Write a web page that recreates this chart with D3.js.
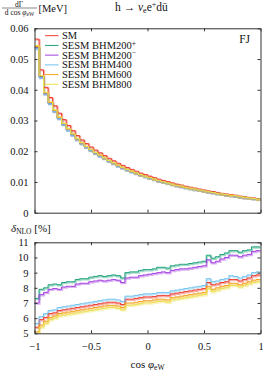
<!DOCTYPE html>
<html>
<head>
<meta charset="utf-8">
<script src="https://cdn.jsdelivr.net/npm/d3@7"></script>
<style>
  body { margin: 0; background: #fff; }
  svg text { font-family: "Liberation Serif", "DejaVu Serif", serif; fill: #111; }
</style>
</head>
<body>
<div id="chart"></div>
<script>
// series names + colours
const seriesNames = ["SM", "BHM200+", "BHM200-", "BHM400", "BHM600", "BHM800"];
const seriesColors = ["#ee3a2e", "#1fa27c", "#a33fe0", "#72c2ee", "#f2a31c", "#ece050"];

const nBins = 50;

// dGamma/dcos (MeV), top panel
const topSM     = [0.0565,0.0465,0.0408,0.0375,0.0348,0.0324,0.0303,0.0284,0.0267,0.0251,0.0237,0.0225,0.0214,0.0204,0.0195,0.0186,0.0177,0.0169,0.0161,0.0154,0.0147,0.0141,0.0135,0.0129,0.0124,0.0119,0.0114,0.0109,0.0105,0.0101,0.0097,0.0093,0.0090,0.0086,0.0083,0.0080,0.0077,0.0074,0.0071,0.0069,0.0066,0.0063,0.0061,0.0059,0.0057,0.0054,0.0052,0.0050,0.0048,0.0046];
const topBHM200p = [0.0538,0.0443,0.0388,0.0357,0.0331,0.0308,0.0288,0.0270,0.0254,0.0239,0.0226,0.0214,0.0204,0.0194,0.0186,0.0177,0.0169,0.0161,0.0153,0.0147,0.0140,0.0134,0.0129,0.0123,0.0118,0.0113,0.0109,0.0104,0.0100,0.0096,0.0092,0.0089,0.0086,0.0082,0.0079,0.0076,0.0073,0.0070,0.0068,0.0066,0.0063,0.0060,0.0058,0.0056,0.0054,0.0051,0.0050,0.0048,0.0046,0.0044];
const topBHM200m = [0.0536,0.0441,0.0387,0.0356,0.0330,0.0307,0.0288,0.0270,0.0253,0.0238,0.0225,0.0214,0.0203,0.0194,0.0185,0.0177,0.0168,0.0160,0.0153,0.0146,0.0140,0.0134,0.0128,0.0122,0.0118,0.0113,0.0108,0.0103,0.0100,0.0096,0.0092,0.0088,0.0085,0.0082,0.0079,0.0076,0.0073,0.0070,0.0067,0.0065,0.0063,0.0060,0.0058,0.0056,0.0054,0.0051,0.0049,0.0047,0.0046,0.0044];
const topBHM400 = [0.0534,0.0439,0.0386,0.0354,0.0329,0.0306,0.0286,0.0268,0.0252,0.0237,0.0224,0.0213,0.0202,0.0193,0.0184,0.0176,0.0167,0.0160,0.0152,0.0146,0.0139,0.0133,0.0128,0.0122,0.0117,0.0112,0.0108,0.0103,0.0099,0.0095,0.0092,0.0088,0.0085,0.0081,0.0078,0.0076,0.0073,0.0070,0.0067,0.0065,0.0062,0.0060,0.0058,0.0056,0.0054,0.0051,0.0049,0.0047,0.0045,0.0043];
const topBHM600 = [0.0541,0.0445,0.0390,0.0359,0.0333,0.0310,0.0290,0.0272,0.0256,0.0240,0.0227,0.0215,0.0205,0.0195,0.0187,0.0178,0.0169,0.0162,0.0154,0.0147,0.0141,0.0135,0.0129,0.0123,0.0119,0.0114,0.0109,0.0104,0.0100,0.0097,0.0093,0.0089,0.0086,0.0082,0.0079,0.0077,0.0074,0.0071,0.0068,0.0066,0.0063,0.0060,0.0058,0.0056,0.0055,0.0052,0.0050,0.0048,0.0046,0.0044];
const topBHM800 = [0.0544,0.0447,0.0392,0.0361,0.0335,0.0312,0.0291,0.0273,0.0257,0.0241,0.0228,0.0216,0.0206,0.0196,0.0188,0.0179,0.0170,0.0163,0.0155,0.0148,0.0141,0.0136,0.0130,0.0124,0.0119,0.0114,0.0110,0.0105,0.0101,0.0097,0.0093,0.0089,0.0087,0.0083,0.0080,0.0077,0.0074,0.0071,0.0068,0.0066,0.0063,0.0061,0.0059,0.0057,0.0055,0.0052,0.0050,0.0048,0.0046,0.0044];

// delta_NLO in %, bottom panel
const dSM      = [5.4,5.9,6.05,6.3,6.35,6.5,6.55,6.6,6.65,6.7,6.75,6.8,6.85,6.9,6.95,7.0,7.05,7.05,7.0,6.9,7.25,7.25,7.3,7.35,7.4,7.4,7.42,7.48,7.5,7.48,7.6,7.65,7.7,7.75,7.8,7.85,7.9,7.95,8.35,8.2,8.25,8.35,8.4,8.55,8.55,8.45,8.55,8.65,8.8,8.85];
const dBHM200p = [7.3,7.9,8.0,8.2,8.25,8.2,8.35,8.4,8.4,8.55,8.6,8.6,8.7,8.75,8.8,8.75,8.8,8.85,8.8,8.65,9.0,9.05,9.05,9.15,9.2,9.2,9.25,9.35,9.35,9.3,9.45,9.5,9.55,9.55,9.6,9.65,9.7,9.75,10.15,9.95,10.05,10.2,10.3,10.45,10.45,10.35,10.45,10.5,10.7,10.7];
const dBHM200m = [7.0,7.55,7.7,7.9,7.95,7.9,8.05,8.1,8.1,8.25,8.3,8.3,8.4,8.45,8.5,8.45,8.5,8.55,8.5,8.35,8.65,8.7,8.7,8.8,8.85,8.9,8.95,9.0,9.05,9.0,9.15,9.2,9.25,9.25,9.3,9.35,9.4,9.45,9.85,9.65,9.75,9.9,10.0,10.15,10.15,10.05,10.15,10.2,10.4,10.45];
const dBHM400  = [5.65,6.1,6.3,6.5,6.55,6.7,6.75,6.8,6.85,6.9,6.95,7.0,7.05,7.1,7.15,7.2,7.25,7.25,7.2,7.1,7.45,7.45,7.5,7.55,7.6,7.6,7.62,7.68,7.7,7.68,7.8,7.85,7.9,7.95,8.0,8.05,8.1,8.15,8.6,8.4,8.45,8.55,8.6,8.8,8.75,8.65,8.75,8.85,9.0,9.05];
const dBHM600  = [5.1,5.55,5.8,6.05,6.15,6.3,6.35,6.4,6.45,6.5,6.55,6.6,6.65,6.7,6.75,6.8,6.85,6.85,6.8,6.7,7.0,7.0,7.05,7.1,7.15,7.15,7.2,7.25,7.25,7.2,7.35,7.4,7.45,7.5,7.55,7.6,7.65,7.7,8.1,7.9,8.0,8.1,8.15,8.3,8.3,8.2,8.3,8.4,8.5,8.55];
const dBHM800  = [4.95,5.4,5.65,5.9,6.0,6.15,6.2,6.25,6.3,6.35,6.4,6.45,6.5,6.55,6.6,6.65,6.7,6.7,6.65,6.55,6.85,6.85,6.9,6.95,7.0,7.0,7.05,7.1,7.1,7.05,7.2,7.25,7.3,7.35,7.4,7.45,7.5,7.55,7.95,7.75,7.85,7.95,8.0,8.15,8.15,8.05,8.15,8.25,8.35,8.4];

const topValues = [topSM, topBHM200p, topBHM200m, topBHM400, topBHM600, topBHM800];
const botValues = [dSM, dBHM200p, dBHM200m, dBHM400, dBHM600, dBHM800];

const xTicks = [-1, -0.5, 0, 0.5, 1];
const topYTicks = [0, 0.01, 0.02, 0.03, 0.04, 0.05, 0.06];
const botYTicks = [5, 6, 7, 8, 9, 10, 11];

const width = 263, height = 372;
const svg = d3.select("#chart").append("svg")
  .attr("width", width).attr("height", height);

let x = d3.scaleLinear().domain([-1, 1]).range([34.5, 260.5]);
let yTop = d3.scaleLinear().domain([0, 0.06]).range([212.7, 28.3]);
let yBot = d3.scaleLinear().domain([5, 11]).range([333.3, 242.3]);

const edges = d3.range(nBins + 1).map(i => -1 + 2 * i / nBins);

function stepPoints(vals) {
  let pts = vals.map((v, i) => [edges[i], v]);
  pts.push([edges[nBins], vals[nBins - 1]]);
  return pts;
}

const fmt = d3.format("~g");

function drawPanel(y, yTicks, values, showXLabels, clipId) {
  const y0 = y.range()[0], y1 = y.range()[1];
  const x0 = x.range()[0], x1 = x.range()[1];

  svg.append("clipPath").attr("id", clipId)
    .append("rect").attr("x", x0).attr("y", y1).attr("width", x1 - x0).attr("height", y0 - y1);

  // curves
  let line = d3.line().curve(d3.curveStepAfter)
    .x(d => x(d[0])).y(d => y(d[1]));
  let g = svg.append("g").attr("clip-path", `url(#${clipId})`);
  values.forEach((vals, i) => {
    g.append("path")
      .attr("d", line(stepPoints(vals)))
      .attr("transform", "translate(0.8,1)")
      .attr("fill", "none")
      .attr("stroke", seriesColors[i])
      .attr("stroke-opacity", 0.4)
      .attr("stroke-width", 1.6);
  });
  values.forEach((vals, i) => {
    g.append("path")
      .attr("d", line(stepPoints(vals)))
      .attr("fill", "none")
      .attr("stroke", seriesColors[i])
      .attr("stroke-width", 1);
  });

  // axes, ticks pointing inward
  svg.append("g").attr("transform", `translate(${x0},0)`)
    .call(d3.axisLeft(y).tickValues(yTicks).tickFormat(fmt).tickSizeInner(-3).tickSizeOuter(0).tickPadding(6));
  svg.append("g").attr("transform", `translate(${x1},0)`)
    .call(d3.axisRight(y).tickValues(yTicks).tickFormat("").tickSizeInner(-3).tickSizeOuter(0));
  svg.append("g").attr("transform", `translate(0,${y1})`)
    .call(d3.axisTop(x).tickValues(xTicks).tickFormat("").tickSizeInner(-3).tickSizeOuter(0));
  svg.append("g").attr("transform", `translate(0,${y0})`)
    .call(d3.axisBottom(x).tickValues(xTicks).tickFormat(showXLabels ? fmt : "").tickSizeInner(-3).tickSizeOuter(0).tickPadding(9));

  svg.selectAll(".domain").attr("stroke", "#333").attr("stroke-width", 1);
  svg.selectAll(".tick line").attr("stroke", "#333");
  svg.selectAll(".tick text").attr("font-size", "10.5px")
    .attr("font-family", "'Liberation Serif', serif").attr("fill", "#111");
}

drawPanel(yTop, topYTicks, topValues, false, "clipTop");
drawPanel(yBot, botYTicks, botValues, true, "clipBot");

// legend
const legendNames = ["SM", "SESM BHM200", "SESM BHM200", "SESM BHM400", "SESM BHM600", "SESM BHM800"];
const legendSup = ["", "+", "\u2212", "", "", ""];
legendNames.forEach((name, i) => {
  let ly = 35.7 + i * 9.72;
  svg.append("line")
    .attr("x1", 45).attr("x2", 58.5).attr("y1", ly).attr("y2", ly)
    .attr("stroke", seriesColors[i]).attr("stroke-width", 1);
  let t = svg.append("text").attr("x", 62).attr("y", ly + 3.6).attr("font-size", "10.5px").text(name);
  if (legendSup[i]) {
    t.append("tspan").attr("dy", -3.5).attr("font-size", "7.5px").text(legendSup[i]);
  }
});

// FJ label
svg.append("text").attr("x", 250).attr("y", 43).attr("text-anchor", "end")
  .attr("font-size", "11.5px").text("FJ");

// top y label: dΓ / d cos φ_eW [MeV]
svg.append("text").attr("x", 19).attr("y", 6.5).attr("text-anchor", "middle")
  .attr("font-size", "7.5px").text("d\u0393");
svg.append("line").attr("x1", 2).attr("x2", 37).attr("y1", 8).attr("y2", 8)
  .attr("stroke", "#111").attr("stroke-width", 0.5);
let den = svg.append("text").attr("x", 19.5).attr("y", 14.5).attr("text-anchor", "middle")
  .attr("font-size", "7.5px");
den.append("tspan").text("d cos ");
den.append("tspan").attr("font-style", "italic").text("\u03c6");
den.append("tspan").attr("dy", 1.5).attr("font-size", "5.5px").text("eW");
svg.append("text").attr("x", 38.5).attr("y", 11.5).attr("font-size", "10.5px").text("[MeV]");

// process title
let tt = svg.append("text").attr("x", 115).attr("y", 11).attr("font-size", "11.5px");
tt.append("tspan").text("h \u2192 ");
tt.append("tspan").attr("font-style", "italic").text("\u03bd");
tt.append("tspan").attr("dy", 2).attr("font-size", "8px").text("e");
tt.append("tspan").attr("dy", -2).text("e");
tt.append("tspan").attr("dy", -4).attr("font-size", "8px").text("+");
tt.append("tspan").attr("dy", 4).text("d\u016b");

// bottom y label: δ_NLO [%]
let dl = svg.append("text").attr("x", 11).attr("y", 232).attr("font-size", "11px");
dl.append("tspan").attr("font-style", "italic").text("\u03b4");
dl.append("tspan").attr("dy", 2).attr("font-size", "7.5px").text("NLO");
dl.append("tspan").attr("dy", -2).text(" [%]");

// x label: cos φ_eW
let xl = svg.append("text").attr("x", 147.5).attr("y", 368).attr("text-anchor", "middle").attr("font-size", "11px");
xl.append("tspan").text("cos ");
xl.append("tspan").attr("font-style", "italic").text("\u03c6");
xl.append("tspan").attr("dy", 2).attr("font-size", "7.5px").text("eW");
</script>
</body>
</html>
